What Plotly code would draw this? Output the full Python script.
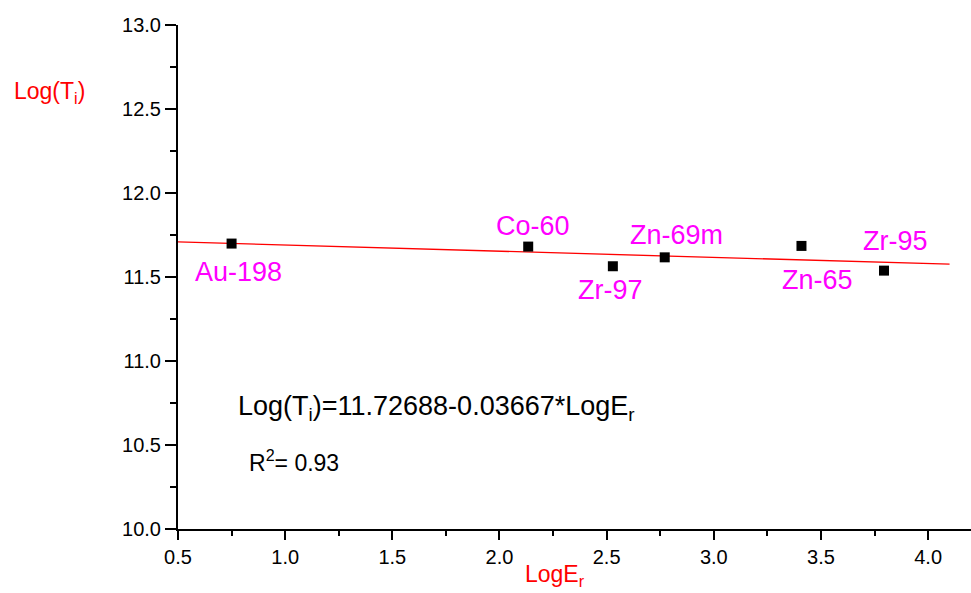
import plotly.graph_objects as go

# Data
isotopes = ["Au-198", "Co-60", "Zr-97", "Zn-69m", "Zn-65", "Zr-95"]
log_e = [0.750, 2.134, 2.529, 2.771, 3.409, 3.794]
log_t = [11.699, 11.681, 11.564, 11.617, 11.685, 11.538]
fit_x = [0.5, 4.1]
fit_y = [11.7085, 11.5765]
label_x = [0.78, 2.157, 2.520, 2.828, 3.486, 3.846]
label_y = [11.528, 11.802, 11.421, 11.748, 11.480, 11.712]
x_ticks = [0.5, 1.0, 1.5, 2.0, 2.5, 3.0, 3.5, 4.0]
y_ticks = [10.0, 10.5, 11.0, 11.5, 12.0, 12.5, 13.0]

FONT = "Arial"

fig = go.Figure()
fig.add_trace(go.Scatter(x=fit_x, y=fit_y, mode="lines",
                         line=dict(color="red", width=1.3), hoverinfo="skip"))
fig.add_trace(go.Scatter(x=log_e, y=log_t, mode="markers",
                         marker=dict(symbol="square", size=10, color="black")))

for lx, ly, name in zip(label_x, label_y, isotopes):
    fig.add_annotation(x=lx, y=ly, text=name, showarrow=False,
                       xanchor="center", yanchor="middle",
                       font=dict(family=FONT, size=27, color="#FF00FF"))

fig.add_annotation(x=0.77, y=10.718, text="Log(T<sub>i</sub>)=11.72688-0.03667*LogE<sub>r</sub>",
                   showarrow=False, xanchor="left", yanchor="middle",
                   font=dict(family=FONT, size=27, color="black"))
fig.add_annotation(x=0.822, y=10.403, text="R<sup>2</sup>= 0.93",
                   showarrow=False, xanchor="left", yanchor="middle",
                   font=dict(family=FONT, size=23, color="black"))

fig.add_annotation(xref="paper", yref="paper", x=-0.209, y=0.867,
                   text="Log(T<sub>i</sub>)", showarrow=False,
                   xanchor="left", yanchor="middle",
                   font=dict(family=FONT, size=23, color="red"))
fig.add_annotation(xref="paper", yref="paper", x=(555 - 178) / 793, y=-0.092,
                   text="LogE<sub>r</sub>", showarrow=False,
                   xanchor="center", yanchor="middle",
                   font=dict(family=FONT, size=23, color="red"))

axis_common = dict(showgrid=False, zeroline=False, showline=True,
                   linecolor="black", linewidth=2, ticks="outside",
                   tickcolor="black", tickwidth=2)

fig.update_xaxes(range=[0.5, 4.2], tickmode="array", tickvals=x_ticks,
                 ticktext=[f"{v:.1f}" for v in x_ticks], ticklen=9,
                 tickfont=dict(size=20, family=FONT, color="black"),
                 minor=dict(dtick=0.25, tick0=0.5, ticks="outside", ticklen=5,
                            tickwidth=2, tickcolor="black"),
                 **axis_common)
fig.update_yaxes(range=[10.0, 13.0], tickmode="array", tickvals=y_ticks,
                 ticktext=[f"{v:.1f}" for v in y_ticks], ticklen=11,
                 tickfont=dict(size=20, family=FONT, color="black"),
                 minor=dict(dtick=0.25, tick0=10.0, ticks="outside", ticklen=6,
                            tickwidth=2, tickcolor="black"),
                 **axis_common)

fig.update_layout(width=971, height=593, showlegend=False,
                  font=dict(family=FONT, size=20, color="black"),
                  margin=dict(l=178, r=0, t=25, b=64),
                  paper_bgcolor="white", plot_bgcolor="white")

fig.write_html("out.html")
